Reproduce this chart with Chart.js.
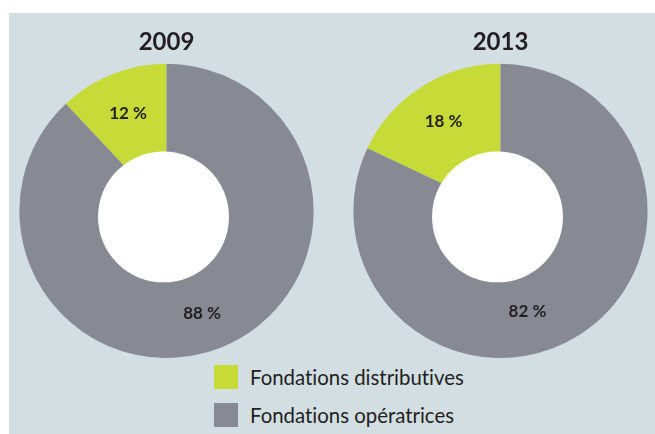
<!DOCTYPE html>
<html><head><meta charset="utf-8">
<script src="https://cdn.jsdelivr.net/npm/chart.js@4"></script>
<style>
html,body{margin:0;padding:0;background:#fff;width:655px;height:434px;overflow:hidden;}
#panel{position:absolute;left:9px;top:13px;width:646px;height:421px;background:#d3dee3;}
.c{position:absolute;top:13px;width:315px;height:345px;}
#legend{position:absolute;left:214px;top:358px;font-family:Lato,sans-serif;font-size:20.4px;color:#231f20;font-variant-ligatures:none;}
.item{display:flex;align-items:center;height:38px;white-space:nowrap;}
.sw{width:24px;height:24px;margin-right:12px;flex:none;}
</style>
</head><body>
<div id="panel"></div>
<div class="c" style="left:9px"><canvas id="c1"></canvas></div>
<div class="c" style="left:343px"><canvas id="c2"></canvas></div>
<div id="legend"></div>
<script>
const categories = ['Fondations distributives', 'Fondations opératrices'];
const years = ['2009', '2013'];
const values2009 = [12, 88];
const values2013 = [18, 82];
const colors = ['#c6da38', '#878a93'];

const holeAndLabels = {
  id: 'holeAndLabels',
  afterDatasetsDraw(chart, args, opts) {
    const ctx = chart.ctx;
    const meta = chart.getDatasetMeta(0);
    const a0 = meta.data[0];
    const R = a0.outerRadius;
    const hr = R * opts.holeRatio;
    ctx.save();
    ctx.fillStyle = '#ffffff';
    ctx.beginPath();
    ctx.arc(a0.x + opts.holeOffset[0], a0.y + opts.holeOffset[1], hr, 0, Math.PI * 2);
    ctx.fill();
    ctx.font = 'bold 17px Lato, sans-serif';
    ctx.fillStyle = '#231f20';
    ctx.textAlign = 'center';
    ctx.textBaseline = 'middle';
    meta.data.forEach((arc, i) => {
      const v = chart.data.datasets[0].data[i];
      const shift = (opts.angleShift || [])[i] || 0;
      const mid = (arc.startAngle + arc.endAngle) / 2 + shift * Math.PI / 180;
      const r = (hr + R) / 2 + ((opts.radShift || [])[i] || 0);
      ctx.fillText(v + ' %', arc.x + Math.cos(mid) * r, arc.y + Math.sin(mid) * r);
    });
    ctx.restore();
  }
};

function makeChart(id, year, values, angleShift, radShift) {
  return new Chart(document.getElementById(id), {
    type: 'doughnut',
    data: {
      labels: categories,
      datasets: [{ data: values, backgroundColor: colors, borderWidth: 0 }]
    },
    options: {
      responsive: true,
      maintainAspectRatio: false,
      animation: false,
      cutout: 0,
      rotation: -values[0] * 3.6,
      layout: { padding: 0 },
      plugins: {
        legend: { display: false },
        tooltip: { enabled: false },
        title: {
          display: true, text: year, color: '#231f20',
          font: { family: 'Lato, sans-serif', size: 24, weight: 'bold', lineHeight: 1.2 },
          padding: { top: 15, bottom: 7 }
        },
        holeAndLabels: { holeRatio: 0.445, holeOffset: [-3, 6], angleShift, radShift }
      }
    },
    plugins: [holeAndLabels]
  });
}

makeChart('c1', years[0], values2009, [0, 2.4], [-2, 2]);
makeChart('c2', years[1], values2013, [0, 17.4], [0, -2]);

const lg = document.getElementById('legend');
categories.forEach((c, i) => {
  const d = document.createElement('div');
  d.className = 'item';
  d.innerHTML = '<span class="sw" style="background:' + colors[i] + '"></span><span></span>';
  d.lastChild.textContent = c;
  lg.appendChild(d);
});
</script>
</body></html>
